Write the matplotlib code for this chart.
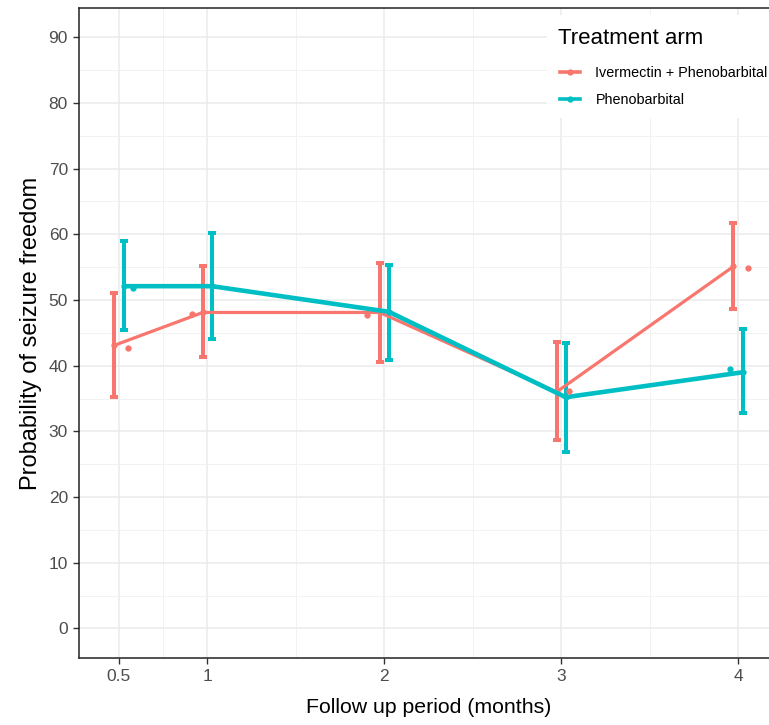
import numpy as np
import matplotlib
matplotlib.use("Agg")
import matplotlib.pyplot as plt
from matplotlib.lines import Line2D
from matplotlib.patches import Rectangle

plt.rcParams['font.family'] = ['Liberation Sans', 'DejaVu Sans']

# follow-up times (months)
months = [0.5, 1, 2, 3, 4]
tick_labels = ["0.5", "1", "2", "3", "4"]

# Ivermectin + Phenobarbital
ivm_est = [43.1, 48.1, 48.1, 36.0, 55.1]
ivm_lo = [35.2, 41.3, 40.5, 28.7, 48.7]
ivm_hi = [51.1, 55.1, 55.7, 43.6, 61.7]

# Phenobarbital
pb_est = [52.1, 52.1, 48.2, 35.2, 39.0]
pb_lo = [45.4, 44.1, 40.9, 26.8, 32.8]
pb_hi = [59.0, 60.2, 55.4, 43.5, 45.6]

# jittered observation dots
ivm_dot_x = [0.553, 0.913, 1.902, 3.047, 4.055]
ivm_dot_y = [42.7, 47.8, 47.7, 36.1, 54.9]
pb_dot_x = [0.582, 3.955]
pb_dot_y = [51.9, 39.5]

RED = "#F8766D"
CYAN = "#00BFC4"
dodge = 0.026

fig = plt.figure(figsize=(7.69, 7.25), dpi=100)
ax = fig.add_axes([79 / 769, 67 / 725, 699 / 769, 650 / 725])

x = np.array(months, dtype=float)


def draw_arm(xpos, est, lo, hi, col, lw):
    est = np.array(est)
    yerr = [est - np.array(lo), np.array(hi) - est]
    ax.errorbar(xpos, est, yerr=yerr, fmt='none', ecolor=col, elinewidth=2.9,
                capsize=3.2, capthick=2.9, zorder=3)
    ax.plot(xpos, est, color=col, lw=lw, marker='o', ms=3.5, zorder=4,
            solid_capstyle='butt')


draw_arm(x - dodge, ivm_est, ivm_lo, ivm_hi, RED, 2.3)
draw_arm(x + dodge, pb_est, pb_lo, pb_hi, CYAN, 3.3)
ax.plot(ivm_dot_x, ivm_dot_y, 'o', color=RED, ms=3.5, zorder=5)
ax.plot(pb_dot_x, pb_dot_y, 'o', color=CYAN, ms=3.5, zorder=5)

ax.set_xlim(0.274, 4.226)
ax.set_ylim(-4.49, 94.44)
ax.set_xticks(months)
ax.set_xticklabels(tick_labels)
ax.set_xticks([0.75, 1.5, 2.5, 3.5], minor=True)
ax.set_yticks(np.arange(0, 91, 10))
ax.set_yticks(np.arange(5, 90, 10), minor=True)

ax.grid(which='major', color='#EBEBEB', lw=1.1, zorder=0)
ax.grid(which='minor', color='#F2F2F2', lw=0.7, zorder=0)
ax.set_axisbelow(True)
ax.tick_params(which='major', length=4, width=1, color='#333333',
               labelsize=12.5, labelcolor='#4D4D4D', pad=4)
ax.tick_params(which='minor', length=0)
for s in ax.spines.values():
    s.set_color('#222222')
    s.set_linewidth(1.1)

ax.set_xlabel("Follow up period (months)", fontsize=15.3, labelpad=10)
ax.set_ylabel("Probability of seizure freedom", fontsize=17, labelpad=5)

# white box behind the legend
ax.add_patch(Rectangle((547 / 769, 1 - 118 / 725), 222 / 769, 103 / 725,
                       transform=fig.transFigure, facecolor='white',
                       edgecolor='none', zorder=1))
fig.text(558 / 769, 1 - 38 / 725, "Treatment arm", fontsize=16,
         va='center', ha='left')

handles = [Line2D([0], [0], color=RED, lw=2.6, marker='o', ms=3.5),
           Line2D([0], [0], color=CYAN, lw=2.6, marker='o', ms=3.5)]
leg = ax.legend(handles, ["Ivermectin + Phenobarbital", "Phenobarbital"],
                loc='upper left', bbox_to_anchor=(560 / 769, 1 - 66 / 725),
                bbox_transform=fig.transFigure, borderaxespad=0,
                fontsize=10.4, frameon=False, borderpad=0,
                handlelength=1.4, handletextpad=1.05, labelspacing=0.88)

fig.savefig("out.png", dpi=100)
